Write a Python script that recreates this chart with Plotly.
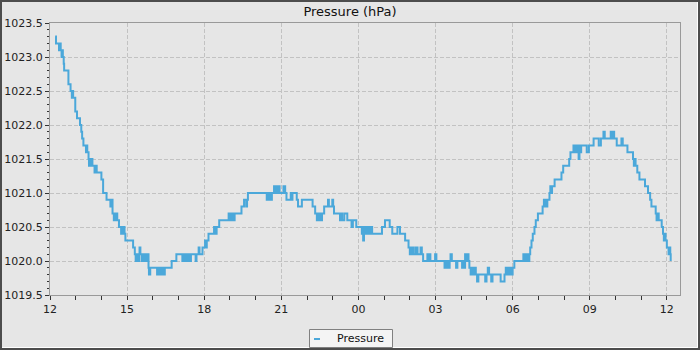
import pandas as pd
import plotly.graph_objects as go

# Station pressure readings: minutes after 12:00 on the first day, and hPa value
# (one entry per change of the reported value; the trace is drawn as steps).
minutes = [
    12, 14, 21, 23, 25, 27, 29, 30, 32, 33, 43, 48, 51, 52, 54, 59, 63, 70, 73, 75,
    78, 84, 85, 87, 90, 91, 93, 95, 97, 99, 104, 107, 109,
    120, 124, 132, 141, 143, 146, 149, 151, 153, 155, 157, 161, 166, 168, 170, 172, 174,
    176, 194, 198, 200, 203, 206, 208, 209, 211, 214, 216, 218, 220, 222, 224, 226, 228,
    230, 231, 234, 250, 252, 254, 256, 258, 260, 262, 264, 266, 268, 284, 295,
    309, 311, 313, 315, 317, 319, 321, 323, 326, 329, 340, 342, 347, 349, 356, 362, 364,
    366, 370, 383, 385, 389, 395, 417, 419, 422, 424, 427, 429, 431, 447, 453, 458, 460,
    462, 506, 508, 510, 513, 515, 518, 523, 525, 527, 529, 531, 533, 534, 536, 545, 549,
    552, 562, 564, 566, 576, 579, 588, 613, 619, 623, 625, 627, 630, 632, 635, 640, 649,
    651, 659, 661, 663, 677, 680, 682, 687, 694, 704, 707, 715,
    728, 730, 731, 733, 735, 737, 740, 742, 745, 747, 750, 752, 775, 782, 793, 799, 811,
    817, 829, 837, 840, 842, 845, 847, 849, 854, 858, 865, 868, 871, 881, 883, 886, 888,
    899, 902, 921, 923, 925, 928, 930, 933, 935, 938, 948, 951, 962, 965, 967, 969, 971,
    973, 977, 979, 982, 984, 986, 988, 990, 992, 994, 997, 1000, 1016, 1019, 1022, 1025,
    1030, 1033, 1052, 1061, 1064, 1066, 1068, 1070, 1072, 1074, 1076, 1078, 1080, 1084,
    1105, 1108, 1111, 1113, 1115, 1117, 1119, 1121, 1124, 1127, 1131, 1134, 1139, 1150,
    1153, 1155, 1157, 1159, 1161, 1166, 1168, 1170, 1172, 1178, 1194, 1198, 1212, 1215,
    1222, 1224, 1226, 1228, 1230, 1234, 1236, 1238, 1240, 1253, 1258, 1269, 1281, 1286,
    1292, 1295, 1309, 1311, 1313, 1317, 1323, 1334, 1337, 1348, 1361, 1363, 1365, 1367,
    1371, 1376, 1389, 1396, 1401, 1404, 1414, 1416, 1418, 1421, 1428, 1431, 1433, 1435,
    1437, 1440, 1444, 1446, 1448, 1449,
]
pressure_hpa = [
    1023.3, 1023.2, 1023.1, 1023.2, 1023.1, 1023.0, 1023.1, 1023.0, 1022.9, 1022.8,
    1022.6, 1022.5, 1022.4, 1022.5, 1022.4, 1022.2, 1022.1, 1022.0, 1021.9, 1021.8,
    1021.7, 1021.6, 1021.7, 1021.6, 1021.5, 1021.4, 1021.5, 1021.4, 1021.5, 1021.4,
    1021.3, 1021.4, 1021.3,
    1021.2, 1021.0, 1020.9, 1020.8, 1020.9, 1020.7, 1020.6, 1020.7, 1020.6, 1020.7,
    1020.6, 1020.5, 1020.4, 1020.5, 1020.4, 1020.5, 1020.4,
    1020.3, 1020.2, 1020.1, 1020.0, 1020.1, 1020.0, 1020.1, 1020.2, 1020.1, 1020.0,
    1020.1, 1020.0, 1020.1, 1020.0, 1020.1, 1020.0, 1020.1,
    1019.9, 1019.8, 1019.9, 1019.8, 1019.9, 1019.8, 1019.9, 1019.8, 1019.9, 1019.8,
    1019.9, 1019.8, 1019.9, 1020.0, 1020.1,
    1020.0, 1020.1, 1020.0, 1020.1, 1020.0, 1020.1, 1020.0, 1020.1, 1020.0, 1020.1,
    1020.0, 1020.1, 1020.2, 1020.1, 1020.2, 1020.3, 1020.2,
    1020.3, 1020.4, 1020.5, 1020.4, 1020.5, 1020.6, 1020.7, 1020.6, 1020.7, 1020.6,
    1020.7, 1020.6, 1020.7, 1020.8, 1020.9, 1020.8, 1020.9,
    1021.0, 1020.9, 1021.0, 1020.9, 1021.0, 1020.9, 1021.0, 1021.1, 1021.0, 1021.1,
    1021.0, 1021.1, 1021.0, 1021.1, 1021.0, 1021.1, 1021.0,
    1020.9, 1021.0, 1020.9, 1021.0, 1020.9, 1020.8, 1020.9, 1020.8, 1020.7, 1020.6,
    1020.7, 1020.6, 1020.7, 1020.6, 1020.7, 1020.8, 1020.9,
    1020.8, 1020.9, 1020.8, 1020.7, 1020.6, 1020.7, 1020.6, 1020.7, 1020.6, 1020.5,
    1020.6, 1020.5,
    1020.4, 1020.5, 1020.3, 1020.4, 1020.5, 1020.4, 1020.5, 1020.4, 1020.5, 1020.4,
    1020.5, 1020.4, 1020.5, 1020.6, 1020.5, 1020.4, 1020.5,
    1020.4, 1020.3, 1020.2, 1020.1, 1020.2, 1020.1, 1020.2, 1020.1, 1020.2, 1020.1,
    1020.2, 1020.1, 1020.0, 1020.1, 1020.0, 1020.1, 1020.0,
    1020.1, 1020.0, 1019.9, 1020.0, 1019.9, 1020.0, 1019.9, 1020.0, 1020.1, 1020.0,
    1019.9, 1020.0, 1019.9, 1020.0, 1019.9, 1020.1, 1020.0,
    1020.1, 1020.0, 1019.9, 1019.8, 1019.9, 1019.8, 1019.9, 1019.8, 1019.9, 1019.8,
    1019.7, 1019.8, 1019.7, 1019.8, 1019.9, 1019.8,
    1019.7, 1019.8, 1019.7, 1019.8, 1019.9, 1019.8, 1019.9, 1019.8, 1019.9, 1019.8,
    1019.9, 1019.8, 1019.9, 1020.0,
    1020.1, 1020.0, 1020.1, 1020.0, 1020.1, 1020.0, 1020.1, 1020.2, 1020.3, 1020.4,
    1020.5, 1020.6, 1020.7, 1020.8,
    1020.9, 1020.8, 1020.9, 1020.8, 1020.9, 1021.0, 1021.1, 1021.0, 1021.1, 1021.2,
    1021.3, 1021.4, 1021.5, 1021.6,
    1021.7, 1021.6, 1021.7, 1021.6, 1021.7, 1021.5, 1021.7, 1021.6, 1021.7, 1021.6,
    1021.7, 1021.8, 1021.7, 1021.8,
    1021.9, 1021.8, 1021.9, 1021.8, 1021.9, 1021.8, 1021.7, 1021.8, 1021.7, 1021.6,
    1021.5, 1021.4, 1021.5, 1021.4,
    1021.3, 1021.2, 1021.1, 1021.0, 1020.9, 1020.8, 1020.7, 1020.6, 1020.7, 1020.6,
    1020.5, 1020.4, 1020.3, 1020.4,
    1020.3, 1020.2, 1020.1, 1020.2, 1020.1, 1020.0,
]

series_name = "Pressure"
chart_title = "Pressure (hPa)"
y_ticks = [1019.5, 1020.0, 1020.5, 1021.0, 1021.5, 1022.0, 1022.5, 1023.0, 1023.5]

start = pd.Timestamp("2024-05-14 12:00")
times = start + pd.to_timedelta(minutes, unit="min")
x_end = start + pd.Timedelta(minutes=1470.7)

FONT = "DejaVu Sans"
LINE_COLOR = "#4ba8da"
BG = "#e6e6e6"

# plot-area geometry (pixels) used for frame / legend decorations
L, T, W, H = 50, 23, 630, 272


def px(xp):
    return (xp - L) / W


def py(yp):
    return (T + H - yp) / H


fig = go.Figure()
fig.add_trace(go.Scatter(
    x=times, y=pressure_hpa, mode="lines", name=series_name,
    line=dict(color=LINE_COLOR, width=2, shape="hv"), showlegend=False,
))

axis_common = dict(
    showline=True, mirror=True, linecolor="#999999", linewidth=1,
    showgrid=True, gridcolor="#c2c2c2", gridwidth=1, griddash="4px,2px",
    ticks="outside", ticklen=4, tickcolor="#333333", tickwidth=1,
    tickfont=dict(family=FONT, size=11, color="#222222"),
    zeroline=False, automargin=False,
)

fig.update_xaxes(
    type="date", range=[start, x_end], tickformat="%H",
    tick0=start, dtick=3 * 3600 * 1000,
    minor=dict(dtick=3600 * 1000, ticks="outside", ticklen=4, tickcolor="#333333", showgrid=False),
    **axis_common,
)
fig.update_yaxes(
    range=[1019.5, 1023.5], tickvals=y_ticks, tickformat=".1f",
    minor=dict(dtick=0.1, ticks="outside", ticklen=2, tickcolor="#333333", showgrid=False),
    **axis_common,
)

shapes = [
    # outer frame
    dict(type="rect", xref="paper", yref="paper", x0=px(1), x1=px(699), y0=py(349), y1=py(1),
         line=dict(color="#4d4d4d", width=2), fillcolor="rgba(0,0,0,0)", layer="above"),
    dict(type="line", xref="paper", yref="paper", x0=px(697.5), x1=px(697.5), y0=py(2), y1=py(347.5),
         line=dict(color="#ffffff", width=1), layer="above"),
    dict(type="line", xref="paper", yref="paper", x0=px(2), x1=px(697.5), y0=py(347.5), y1=py(347.5),
         line=dict(color="#ffffff", width=1), layer="above"),
    # legend box and swatch
    dict(type="rect", xref="paper", yref="paper", x0=px(309.5), x1=px(392.5), y0=py(347.5), y1=py(329.5),
         line=dict(color="#808080", width=1), fillcolor="#f4f4f4", layer="above"),
    dict(type="line", xref="paper", yref="paper", x0=px(314), x1=px(320), y0=py(339), y1=py(339),
         line=dict(color=LINE_COLOR, width=2), layer="above"),
]

fig.update_layout(
    width=700, height=350, autosize=False,
    margin=dict(l=L, r=700 - L - W, t=T, b=350 - T - H, pad=0),
    paper_bgcolor=BG, plot_bgcolor=BG,
    font=dict(family=FONT, size=11, color="#222222"),
    title=dict(text=chart_title, x=0.5, xref="container", xanchor="center",
               y=1 - 11.5 / 350, yref="container", yanchor="middle",
               font=dict(family=FONT, size=13, color="#111111")),
    shapes=shapes,
    annotations=[dict(text=series_name, xref="paper", yref="paper", x=px(335), y=py(338),
                      xanchor="left", yanchor="middle", showarrow=False,
                      font=dict(family=FONT, size=11, color="#111111"))],
    showlegend=False,
)

fig.write_html("out.html")
